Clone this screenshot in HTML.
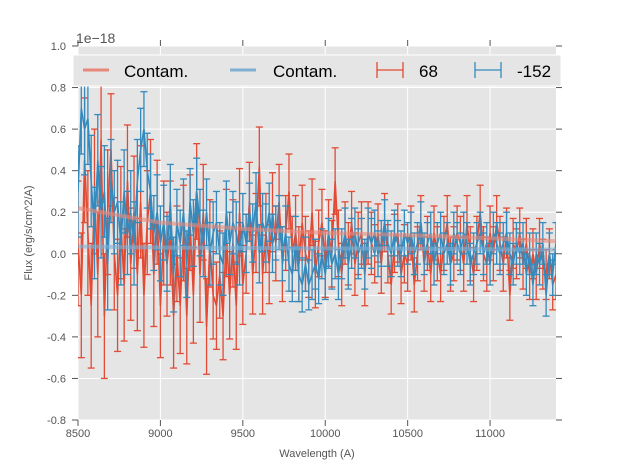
<!DOCTYPE html>
<html><head><meta charset="utf-8"><style>
body{margin:0;background:#fff;}
svg text{font-family:"Liberation Sans",sans-serif;}
</style></head><body>
<svg id="chart" width="617" height="467" xmlns="http://www.w3.org/2000/svg">
<rect x="78" y="46" width="478" height="374" fill="#e5e5e5"/>
<g id="grid"></g>
<g id="series"></g>
<g id="axes"></g>
<text x="76" y="43" font-size="14" fill="#555">1e−18</text>
<text x="317" y="457" font-size="11" fill="#555" text-anchor="middle">Wavelength (A)</text>
<text transform="translate(32,233) rotate(-90)" font-size="11" fill="#555" text-anchor="middle">Flux (erg/s/cm^2/A)</text>
<g>
<rect x="73" y="55" width="488" height="31" fill="#e5e5e5" stroke="#fff" stroke-width="1"/>
<g><line x1="83" y1="70" x2="109" y2="70" stroke="#e8887a" stroke-width="3"/><text x="124" y="77" font-size="17" fill="#000">Contam.</text></g>
<g><line x1="230" y1="70" x2="256" y2="70" stroke="#7fb0d3" stroke-width="3"/><text x="273" y="77" font-size="17" fill="#000">Contam.</text></g>
<g stroke="#e24a33" stroke-width="1.3"><line x1="377" y1="70" x2="403" y2="70"/><line x1="377" y1="62" x2="377" y2="78"/><line x1="403" y1="62" x2="403" y2="78"/><text x="419" y="77" font-size="17" fill="#000" stroke="none">68</text></g>
<g stroke="#348abd" stroke-width="1.3"><line x1="475" y1="70" x2="501" y2="70"/><line x1="475" y1="62" x2="475" y2="78"/><line x1="501" y1="62" x2="501" y2="78"/><text x="517" y="77" font-size="17" fill="#000" stroke="none">-152</text></g>
</g>
</svg>
<script>
const xTicks=[8500,9000,9500,10000,10500,11000];
const yTicks=[-0.8,-0.6,-0.4,-0.2,0.0,0.2,0.4,0.6,0.8,1.0];
const wlStart=8500, wlStep=20;
const redFlux=[0.05,-0.2,0.45,0.1,-0.25,0.3,-0.1,0.55,-0.3,0.2,
0.5,0.0,-0.2,0.15,-0.15,0.35,-0.05,0.2,-0.1,0.25,
-0.2,0.15,0.3,-0.1,0.2,-0.25,0.1,-0.05,0.1,-0.3,
0.0,-0.25,0.1,-0.3,0.15,-0.2,0.3,-0.1,0.2,-0.35,
0.05,-0.2,-0.25,-0.1,-0.3,0.1,-0.2,0.05,-0.25,0.2,
-0.15,0.0,0.25,-0.1,0.1,0.42,-0.1,0.1,-0.05,0.2,
0.05,0.25,-0.05,0.1,0.3,0.0,0.1,-0.05,0.15,0.0,
-0.05,0.2,-0.1,0.05,0.15,-0.05,0.1,0.0,0.35,0.05,
-0.1,0.1,0.0,0.15,-0.05,0.05,0.1,-0.1,0.1,0.05,
0.0,0.1,-0.05,0.15,0.0,-0.15,0.05,0.1,-0.1,0.0,
-0.05,0.1,-0.15,0.0,0.15,-0.05,0.05,-0.1,0.1,0.0,
-0.1,0.05,0.15,-0.05,0.0,0.1,0.05,-0.05,0.15,0.0,
-0.1,0.05,0.2,0.0,-0.05,0.1,0.0,0.15,0.05,-0.05,
0.1,-0.2,0.05,0.0,0.1,-0.05,0.05,-0.1,0.0,-0.1,
0.05,-0.05,-0.1,0.0,-0.15,-0.1];
const blueFlux=[0.3,0.7,0.6,0.65,0.35,0.1,0.45,0.2,0.3,-0.05,
0.35,0.2,0.25,0.05,0.3,0.1,0.2,0.05,0.35,0.5,
0.6,0.4,0.3,0.1,0.2,0.05,0.15,0.0,0.25,-0.1,
0.15,0.05,0.2,-0.05,0.25,0.1,0.3,0.15,0.05,0.2,
0.0,0.1,0.15,0.0,-0.05,0.2,0.05,0.15,0.1,0.0,
0.15,0.05,0.2,0.1,0.25,0.0,0.15,0.1,0.2,0.05,
0.1,0.15,0.0,0.1,-0.05,-0.1,0.05,-0.1,-0.15,-0.05,
-0.15,-0.1,-0.05,-0.12,0.0,-0.1,0.05,-0.05,0.0,-0.1,
0.0,0.1,-0.05,0.05,0.1,0.0,0.05,-0.05,0.1,0.05,
0.1,0.0,0.05,0.15,0.05,0.0,0.1,0.05,0.0,0.1,
0.05,0.1,0.0,0.05,0.15,0.0,0.05,0.1,-0.05,0.05,
0.1,0.0,0.05,-0.05,0.1,0.05,0.0,0.1,0.05,-0.05,
0.0,0.05,0.1,0.0,0.05,-0.05,0.1,0.05,0.0,0.05,
0.1,0.0,-0.05,0.05,0.0,0.05,-0.1,0.0,-0.15,0.0,
-0.05,0.05,-0.2,0.0,-0.1,0.05];
// errors per block of 10 points
const redErr=[0.3,0.27,0.25,0.23,0.21,0.19,0.18,0.16,0.15,0.14,0.13,0.13,0.13,0.12,0.12];
const blueErr=[0.22,0.2,0.18,0.16,0.15,0.14,0.13,0.12,0.12,0.11,0.1,0.1,0.1,0.1,0.1];
const contamWl=[8500,9000,9500,10000,10500,11000,11400];
const redContam=[0.22,0.15,0.12,0.1,0.09,0.075,0.06];
const blueContam=[0.035,0.03,0.028,0.026,0.024,0.022,0.02];

const X0=78,X1=556,Y0=46,Y1=420,XMIN=8500,XMAX=11400,YMIN=-0.8,YMAX=1.0;
const xs=v=>X0+(v-XMIN)/(XMAX-XMIN)*(X1-X0);
const ys=v=>Y1-(v-YMIN)/(YMAX-YMIN)*(Y1-Y0);
const NS='http://www.w3.org/2000/svg';
function mk(tag,attrs,parent){const e=document.createElementNS(NS,tag);for(const k in attrs)e.setAttribute(k,attrs[k]);parent.appendChild(e);return e;}
const grid=document.getElementById('grid'),axes=document.getElementById('axes'),ser=document.getElementById('series');
xTicks.forEach(t=>{
 const x=xs(t);
 const g=mk('line',{x1:x,y1:Y0,x2:x,y2:Y1,stroke:'#fff','stroke-width':1},grid);
 
 
 mk('line',{x1:x,y1:Y0-6,x2:x,y2:Y0,stroke:'#555','stroke-width':1},axes);
 mk('line',{x1:x,y1:Y1,x2:x,y2:Y1+6,stroke:'#555','stroke-width':1},axes);
 const tx=mk('text',{x:x,y:Y1+17,'font-size':11,fill:'#555','text-anchor':'middle'},axes);
 tx.textContent=t;
 
 
});
yTicks.forEach(t=>{
 const y=ys(t);
 const g=mk('line',{x1:X0,y1:y,x2:X1,y2:y,stroke:'#fff','stroke-width':1},grid);
 
 
 mk('line',{x1:X0-6,y1:y,x2:X0,y2:y,stroke:'#555','stroke-width':1},axes);
 mk('line',{x1:X1,y1:y,x2:X1+6,y2:y,stroke:'#555','stroke-width':1},axes);
 const tx=mk('text',{x:X0-12,y:y+4,'font-size':11,fill:'#555','text-anchor':'end'},axes);
 tx.textContent=t.toFixed(1);
 
 
});
function contam(vals,color,name){
 const p=mk('polyline',{points:contamWl.map((w,i)=>xs(w)+','+ys(vals[i])).join(' '),fill:'none',stroke:color,'stroke-width':4,'stroke-opacity':0.6},ser);
 
 
}
function errSeries(vals,errs,color,name){
 const g=mk('g',{},ser);
 
 
 vals.forEach((v,i)=>{
  const x=xs(wlStart+i*wlStep),e=errs[Math.floor(i/10)];
  const y1=ys(v-e),y2=ys(v+e);
  mk('line',{x1:x,y1:y1,x2:x,y2:y2,stroke:color,'stroke-width':1.3},g);
  mk('line',{x1:x-3.5,y1:y1,x2:x+3.5,y2:y1,stroke:color,'stroke-width':1.3},g);
  mk('line',{x1:x-3.5,y1:y2,x2:x+3.5,y2:y2,stroke:color,'stroke-width':1.3},g);
 });
 const p=mk('polyline',{points:vals.map((v,i)=>xs(wlStart+i*wlStep)+','+ys(v)).join(' '),fill:'none',stroke:color,'stroke-width':1.6},g);
 
 
}
const clip=mk('clipPath',{id:'pc'},document.getElementById('chart'));
mk('rect',{x:X0,y:Y0,width:X1-X0,height:Y1-Y0},clip);
ser.setAttribute('clip-path','url(#pc)');
errSeries(redFlux,redErr,'#e24a33','series-68');
errSeries(blueFlux,blueErr,'#348abd','series-neg152');
contam(redContam,'#e8887a','contam-red-line');
contam(blueContam,'#7fb0d3','contam-blue-line');
</script>
</body></html>
